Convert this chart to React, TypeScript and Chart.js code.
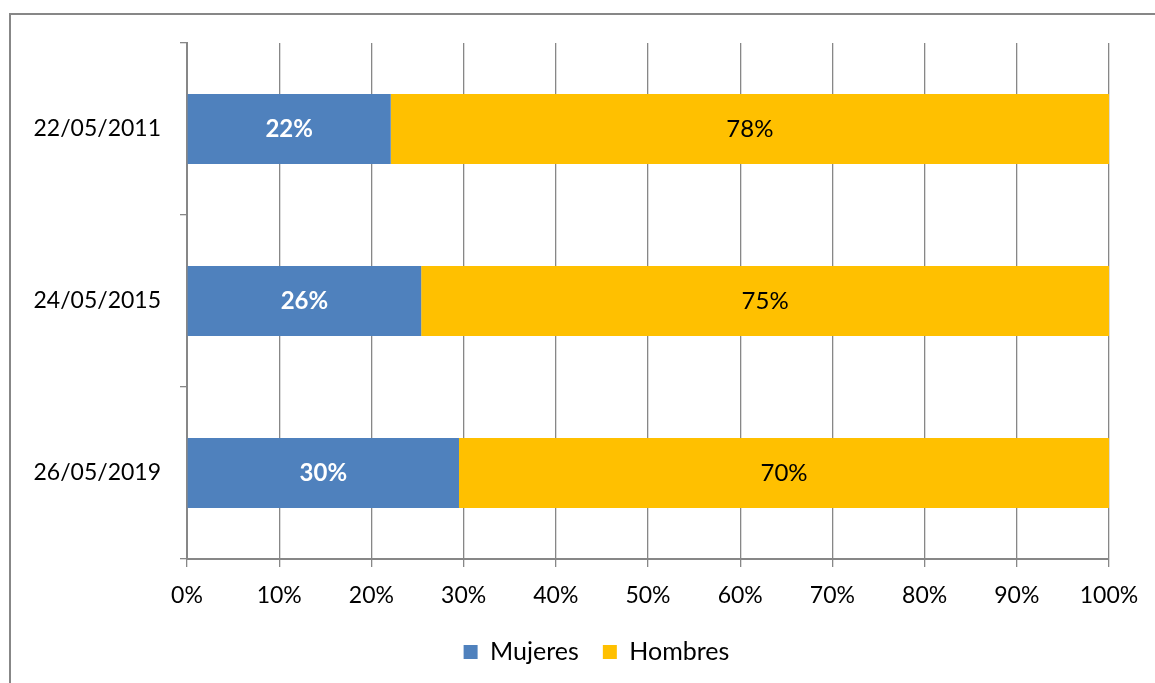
import React, { useEffect, useRef } from "react";
import { Chart, registerables } from "chart.js";

Chart.register(...registerables);

const categories = ["22/05/2011", "24/05/2015", "26/05/2019"];
const mujeres = [22.1, 25.4, 29.5];
const hombres = [77.9, 74.6, 70.5];
const mujeresLabels = ["22%", "26%", "30%"];
const hombresLabels = ["78%", "75%", "70%"];
const seriesNames = ["Mujeres", "Hombres"];

const FONT = "Lato";
const GRID = "#878787";

const framePlugin = {
  id: "frame",
  beforeDraw(chart: any) {
    const ctx = chart.ctx;
    ctx.save();
    ctx.fillStyle = "#ffffff";
    ctx.fillRect(0, 0, chart.width, chart.height);
    ctx.strokeStyle = GRID;
    ctx.lineWidth = 2;
    ctx.strokeRect(10, 14, 3000, 3000);
    ctx.restore();
  },
};

const legendShift = {
  id: "legendShift",
  afterLayout(chart: any) {
    if (chart.legend) {
      chart.legend.left += 42;
      chart.legend.right += 42;
    }
  },
};

const labelPlugin = {
  id: "barLabels",
  afterDatasetsDraw(chart: any) {
    const ctx = chart.ctx;
    const all = [mujeresLabels, hombresLabels];
    chart.data.datasets.forEach((ds: any, di: number) => {
      const meta = chart.getDatasetMeta(di);
      meta.data.forEach((el: any, i: number) => {
        const p = el.getCenterPoint();
        ctx.save();
        ctx.font = (di === 0 ? "bold " : "") + "24px " + FONT;
        ctx.fillStyle = di === 0 ? "#ffffff" : "#000000";
        ctx.textAlign = "center";
        ctx.textBaseline = "middle";
        ctx.fillText(all[di][i], p.x, p.y);
        ctx.restore();
      });
    });
  },
};

export default function App() {
  const ref = useRef<HTMLCanvasElement | null>(null);
  useEffect(() => {
    if (!ref.current) return;
    const chart = new Chart(ref.current, {
      type: "bar",
      data: {
        labels: categories,
        datasets: [
          {
            label: seriesNames[0],
            data: mujeres,
            backgroundColor: "#4F81BD",
            borderWidth: 0,
            barPercentage: 1,
            categoryPercentage: 70 / 172,
          },
          {
            label: seriesNames[1],
            data: hombres,
            backgroundColor: "#FFC000",
            borderWidth: 0,
            barPercentage: 1,
            categoryPercentage: 70 / 172,
          },
        ],
      },
      options: {
        indexAxis: "y",
        animation: false,
        responsive: true,
        maintainAspectRatio: false,
        layout: { padding: { left: 0, top: 43, right: 46, bottom: 8.5 } },
        plugins: {
          tooltip: { enabled: false },
          legend: {
            position: "bottom",
            labels: {
              boxWidth: 14,
              boxHeight: 14,
              padding: 24,
              color: "#000",
              font: { family: FONT, size: 25 },
            },
          },
        },
        scales: {
          x: {
            stacked: true,
            min: 0,
            max: 100,
            ticks: {
              stepSize: 10,
              color: "#000",
              padding: 15,
              font: { family: FONT, size: 23 },
              callback: (v: any) => v + "%",
            },
            grid: {
              color: GRID,
              lineWidth: 1.3,
              tickLength: 8,
              drawTicks: true,
            },
            border: { display: true, color: GRID, width: 2 },
            afterFit: (s: any) => {
              s.height = 56.5;
            },
          },
          y: {
            stacked: true,
            ticks: {
              color: "#000",
              padding: 19,
              font: { family: FONT, size: 23 },
            },
            grid: {
              drawOnChartArea: false,
              drawTicks: true,
              tickLength: 7,
              color: GRID,
              lineWidth: 1.3,
            },
            border: { display: true, color: GRID, width: 2 },
            afterFit: (s: any) => {
              s.width = 187;
            },
          },
        },
      },
      plugins: [framePlugin, legendShift, labelPlugin],
    });
    return () => chart.destroy();
  }, []);
  return (
    <div
      style={{
        position: "fixed",
        left: 0,
        top: 0,
        width: 1155,
        height: 683,
        background: "#fff",
      }}
    >
      <canvas ref={ref} />
    </div>
  );
}
